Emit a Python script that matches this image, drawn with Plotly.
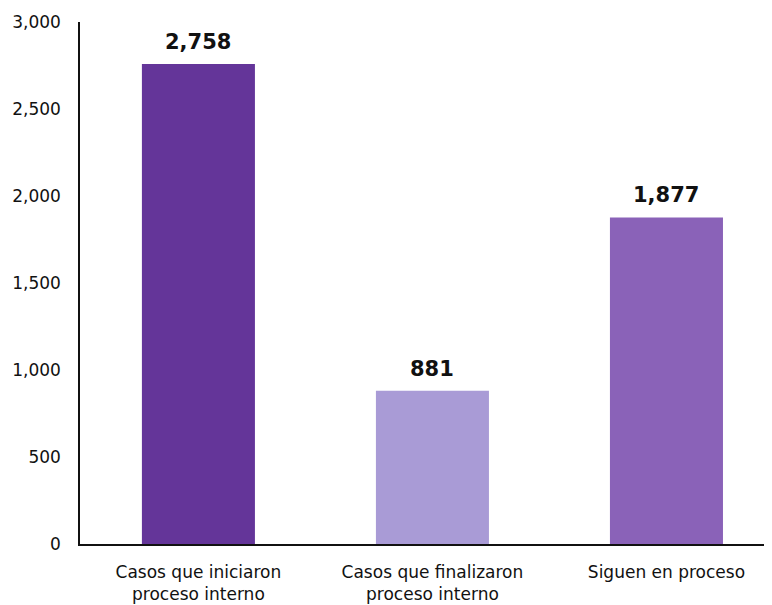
import plotly.graph_objects as go

categories = ["Casos que iniciaron<br>proceso interno",
              "Casos que finalizaron<br>proceso interno",
              "Siguen en proceso"]
values = [2758, 881, 1877]
colors = ["#643599", "#A99BD6", "#8A62B8"]

font_family = "'DejaVu Sans', sans-serif"

fig = go.Figure(go.Bar(
    x=categories,
    y=values,
    width=0.483,
    marker=dict(color=colors, line=dict(width=0)),
))

for cat, val in zip(categories, values):
    fig.add_annotation(
        x=cat, y=val, text=f"<b>{val:,}</b>",
        showarrow=False, yanchor="bottom", yshift=8,
        font=dict(family=font_family, size=21, color="#111111"),
    )

# the page body adds an 8px offset, so the figure is 8px smaller on each side
fig.update_layout(
    width=764, height=597,
    margin=dict(l=72, r=0, t=14, b=61),
    plot_bgcolor="white", paper_bgcolor="white",
    showlegend=False,
    font=dict(family=font_family, size=17, color="#111111"),
    xaxis=dict(
        range=[-0.506, 2.451], automargin=False,
        showline=True, linecolor="#111111", linewidth=1.5,
        showgrid=False, ticks="", ticklabelstandoff=12,
        tickfont=dict(size=17),
    ),
    yaxis=dict(
        range=[0, 3000], dtick=500, tickformat=",", automargin=False,
        showline=True, linecolor="#111111", linewidth=1.5,
        showgrid=False, zeroline=False, ticks="", ticklabelstandoff=14,
        tickfont=dict(size=17),
    ),
)

fig.write_html("out.html")
